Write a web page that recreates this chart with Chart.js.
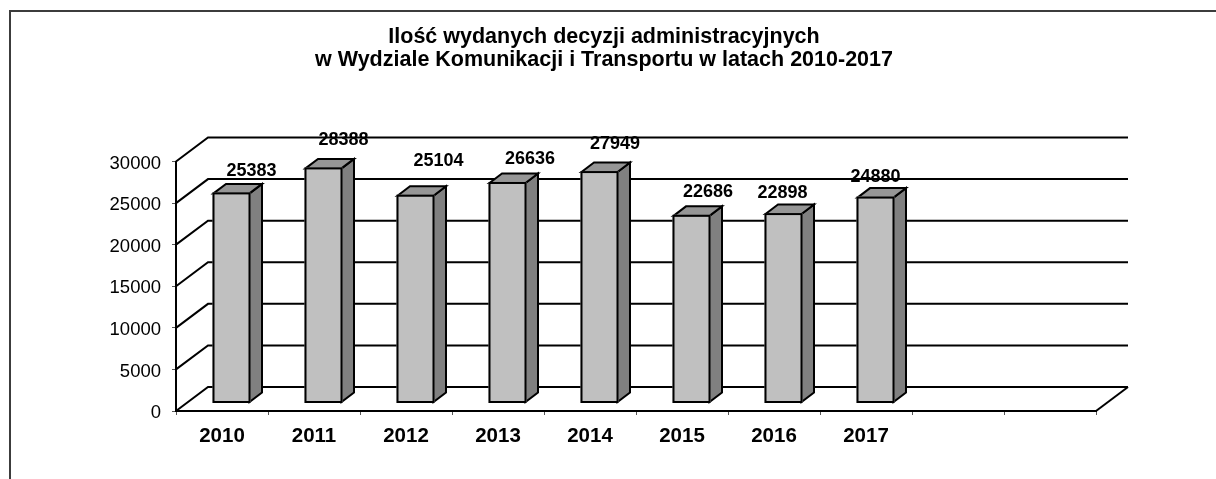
<!DOCTYPE html>
<html>
<head>
<meta charset="utf-8">
<style>
  html, body { margin: 0; padding: 0; background: #fff; }
  canvas { display: block; }
</style>
<script src="https://cdn.jsdelivr.net/npm/chart.js@4"></script>
</head>
<body>
<canvas id="chart" width="1216" height="479"></canvas>
<script>
// Data
const categories = ["2010", "2011", "2012", "2013", "2014", "2015", "2016", "2017", "", ""];
const decisions  = [25383, 28388, 25104, 26636, 27949, 22686, 22898, 24880, null, null];
const yTicks     = [0, 5000, 10000, 15000, 20000, 25000, 30000];
const titleLines = [
  "Ilość wydanych decyzji administracyjnych",
  "w Wydziale Komunikacji i Transportu w latach 2010-2017",
];

const FONT = "'Liberation Sans', Arial, sans-serif";

// fake 3D depth, in px
const WALL_DX = 32,   WALL_DY = -24;   // back wall relative to the axes
const BAR_DX  = 9.5,  BAR_DY  = -7.5;  // bar front face relative to the axes
const SIDE_DX = 12.5, SIDE_DY = -9.5;  // bar depth

// labels were dragged by hand in the original, so each one has its own nudge
const labelNudge = [[20, -21.5], [20, -27.5], [23, -33.5], [22.5, -22.5], [15.5, -27], [16.5, -22.5], [-1, -20.5], [0, -19.5]];

function polygon(ctx, pts, fill) {
  ctx.beginPath();
  pts.forEach((p, i) => (i ? ctx.lineTo(p[0], p[1]) : ctx.moveTo(p[0], p[1])));
  ctx.closePath();
  ctx.fillStyle = fill;
  ctx.fill();
  ctx.stroke();
}

const fake3d = {
  id: "fake3d",
  afterLayout(chart) {
    // title is centred a little left of the page middle
    chart.titleBlock.left = 0;
    chart.titleBlock.right = 1208;
  },
  beforeDraw(chart) {
    // outer frame: only left and top are visible in the picture
    const { ctx } = chart;
    ctx.save();
    ctx.strokeStyle = "#3c3c3c";
    ctx.lineWidth = 2;
    ctx.beginPath();
    ctx.moveTo(10, 479);
    ctx.lineTo(10, 11);
    ctx.lineTo(1216, 11);
    ctx.stroke();
    ctx.restore();
  },
  beforeDatasetsDraw(chart) {
    const { ctx, chartArea: a, scales } = chart;
    ctx.save();
    ctx.strokeStyle = "#000";
    ctx.lineWidth = 2;
    ctx.lineJoin = "miter";
    // back wall lines and the right floor edge
    yTicks.forEach((v) => {
      const y = scales.y.getPixelForValue(v);
      ctx.beginPath();
      ctx.moveTo(a.left, y);
      ctx.lineTo(a.left + WALL_DX, y + WALL_DY);
      ctx.lineTo(a.right + WALL_DX, y + WALL_DY);
      ctx.stroke();
    });
    const y0 = scales.y.getPixelForValue(0);
    ctx.beginPath();
    ctx.moveTo(a.right, y0);
    ctx.lineTo(a.right + WALL_DX, y0 + WALL_DY);
    ctx.stroke();
    // side and top faces, then the library draws the front face in the same shift
    ctx.translate(BAR_DX, BAR_DY);
    chart.getDatasetMeta(0).data.forEach((bar, i) => {
      if (decisions[i] == null) return;
      const l = bar.x - bar.width / 2 + 1, r = bar.x + bar.width / 2 - 1;
      const t = bar.y + 1, b = bar.base - 1;
      polygon(ctx, [[r, t], [r + SIDE_DX, t + SIDE_DY], [r + SIDE_DX, b + SIDE_DY], [r, b]], "#808080");
      polygon(ctx, [[l, t], [l + SIDE_DX, t + SIDE_DY], [r + SIDE_DX, t + SIDE_DY], [r, t]], "#969696");
    });
  },
  afterDatasetsDraw(chart) {
    const { ctx } = chart;
    // front face outline, same shift as the bars
    ctx.strokeStyle = "#000";
    ctx.lineWidth = 2;
    chart.getDatasetMeta(0).data.forEach((bar, i) => {
      if (decisions[i] == null) return;
      ctx.strokeRect(bar.x - bar.width / 2 + 1, bar.y + 1, bar.width - 2, bar.base - bar.y - 2);
    });
    ctx.restore();
    // value labels
    ctx.save();
    ctx.font = "bold 18px " + FONT;
    ctx.fillStyle = "#000";
    ctx.textAlign = "center";
    ctx.textBaseline = "middle";
    chart.getDatasetMeta(0).data.forEach((bar, i) => {
      if (decisions[i] == null) return;
      ctx.fillText(decisions[i], bar.x + BAR_DX + labelNudge[i][0], bar.y + BAR_DY + labelNudge[i][1]);
    });
    ctx.restore();
  },
};

new Chart(document.getElementById("chart"), {
  type: "bar",
  data: {
    labels: categories,
    datasets: [{
      data:            decisions,
      backgroundColor: "#c0c0c0",
      borderWidth:     0,
      categoryPercentage: 1,
      barPercentage:   0.413,
      clip:            false,
    }],
  },
  options: {
    responsive: false,
    animation:  false,
    layout: { padding: { left: 0, right: 120, top: 0, bottom: 0 } },
    plugins: {
      legend:  { display: false },
      tooltip: { enabled: false },
      title: {
        display: true,
        text:    titleLines,
        color:   "#000",
        font:    { family: FONT, size: 21.5, weight: "bold", lineHeight: 1.07 },
        padding: { top: 26, bottom: 89.5 },
      },
    },
    scales: {
      x: {
        afterFit: (s) => { s.height = 68; },
        grid:   { drawOnChartArea: false, color: "#555", tickLength: 4, tickWidth: 1 },
        border: { color: "#000", width: 2 },
        ticks:  {
          color: "#000", autoSkip: false, maxRotation: 0, padding: 9,
          font: { family: FONT, size: 20.5, weight: "bold" },
        },
      },
      y: {
        min: 0,
        max: 30000,
        afterFit: (s) => { s.width = 176; },
        afterBuildTicks: (s) => { s.ticks = yTicks.map((v) => ({ value: v })); },
        grid:   { drawOnChartArea: false, color: "#555", tickLength: 4, tickWidth: 1 },
        border: { color: "#000", width: 2 },
        ticks:  {
          color: "#000", padding: 11, labelOffset: 2,
          font: { family: FONT, size: 18.5 },
          callback: (v) => String(v),
        },
      },
    },
  },
  plugins: [fake3d],
});
</script>
</body>
</html>
